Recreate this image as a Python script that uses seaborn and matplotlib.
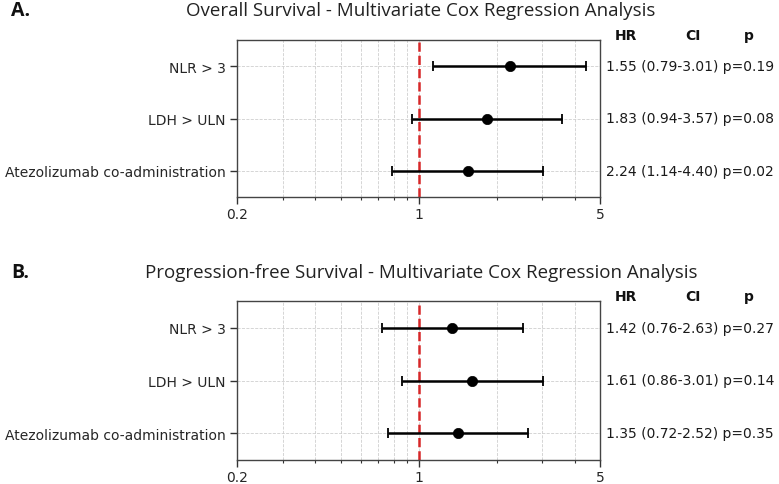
import matplotlib
matplotlib.use("Agg")
import matplotlib.pyplot as plt
import matplotlib.ticker as mticker
import seaborn as sns
import pandas as pd

categories = ["NLR > 3", "LDH > ULN", "Atezolizumab co-administration"]

os_hr = [1.55, 1.83, 2.24]
os_lo = [0.79, 0.94, 1.14]
os_hi = [3.01, 3.57, 4.40]
os_p = ["0.19", "0.08", "0.02"]

pfs_hr = [1.42, 1.61, 1.35]
pfs_lo = [0.76, 0.86, 0.72]
pfs_hi = [2.63, 3.01, 2.52]
pfs_p = ["0.27", "0.14", "0.35"]

xticks = [0.2, 1, 5]
xtick_labels = ["0.2", "1", "5"]
minor_ticks = [0.3, 0.4, 0.5, 0.6, 0.7, 0.8, 0.9, 2, 3, 4]

sns.set_style("white")
plt.rcParams["font.family"] = ["DejaVu Sans"]

W, H = 779, 485
fig = plt.figure(figsize=(W / 100, H / 100), dpi=100)

def panel(rect, hr, lo, hi, pv, title, letter, title_base):
    ax = fig.add_axes(rect)
    n = len(hr)
    ypos = list(range(n))  # drawn positions (bottom to top)
    df = pd.DataFrame({"hr": hr, "y": ypos})
    ax.set_xscale("log")
    ax.set_xlim(0.2, 5)
    ax.set_ylim(-0.5, n - 0.5)
    ax.grid(True, which="both", axis="x", color="#cfcfcf", linestyle="--", linewidth=0.6)
    ax.grid(True, which="major", axis="y", color="#cfcfcf", linestyle="--", linewidth=0.6)
    ax.set_axisbelow(True)
    ax.axvline(1, color="#d62728", linestyle="--", linewidth=1.8, zorder=2)
    xerr = [[h - l for h, l in zip(hr, lo)], [u - h for h, u in zip(hr, hi)]]
    ax.errorbar(hr, ypos, xerr=xerr, fmt="none", ecolor="black", elinewidth=1.8,
                capsize=3.5, capthick=1.3, zorder=3)
    sns.scatterplot(data=df, x="hr", y="y", ax=ax, color="black", s=55,
                    edgecolor="black", linewidth=0.5, zorder=4, legend=False)
    ax.set_xlabel("")
    ax.set_ylabel("")
    ax.xaxis.set_major_locator(mticker.FixedLocator(xticks))
    ax.xaxis.set_major_formatter(mticker.FixedFormatter(xtick_labels))
    ax.xaxis.set_minor_locator(mticker.FixedLocator(minor_ticks))
    ax.xaxis.set_minor_formatter(mticker.NullFormatter())
    ax.set_yticks([n - 1 - i for i in range(n)])
    ax.set_yticklabels(categories)
    ax.tick_params(axis="both", which="major", length=5, width=1, color="#333333",
                   labelsize=10, direction="out", bottom=True, left=True)
    ax.tick_params(axis="x", which="major", pad=2.5)
    ax.tick_params(axis="x", which="minor", length=2.5, width=0.8, color="#333333",
                   bottom=True)
    for s in ax.spines.values():
        s.set_visible(True)
        s.set_color("#444444")
        s.set_linewidth(1.0)
    tr = ax.get_yaxis_transform()
    for i in range(n):
        ax.text(1.0165, n - 1 - i, f"{hr[i]:.2f} ({lo[i]:.2f}-{hi[i]:.2f}) p={pv[i]}",
                transform=tr, ha="left", va="center", fontsize=10, color="#1a1a1a")
    for lab, xf in zip(["HR", "CI", "p"], [1.072, 1.256, 1.411]):
        ax.text(xf, 1.035, lab, transform=ax.transAxes, ha="center", va="center",
                fontsize=10, fontweight="bold", color="#111111")
    fig.text(421 / W, 1 - title_base / H, title, ha="center", va="baseline",
             fontsize=13.5, family=["Open Sans", "DejaVu Sans"], color="#222222")
    fig.text(11 / W, 1 - title_base / H, letter, ha="left", va="baseline",
             fontsize=14, fontweight="bold", family=["Open Sans", "DejaVu Sans"],
             color="#111111")
    return ax

left = 237.3 / W
width = 362.7 / W
panel([left, (H - 198) / H, width, 157 / H], os_hr, os_lo, os_hi, os_p,
      "Overall Survival - Multivariate Cox Regression Analysis", "A.", 16)
panel([left, (H - 460.7) / H, width, 158.4 / H], pfs_hr, pfs_lo, pfs_hi, pfs_p,
      "Progression-free Survival - Multivariate Cox Regression Analysis", "B.", 278)

fig.savefig("out.png", dpi=100)
